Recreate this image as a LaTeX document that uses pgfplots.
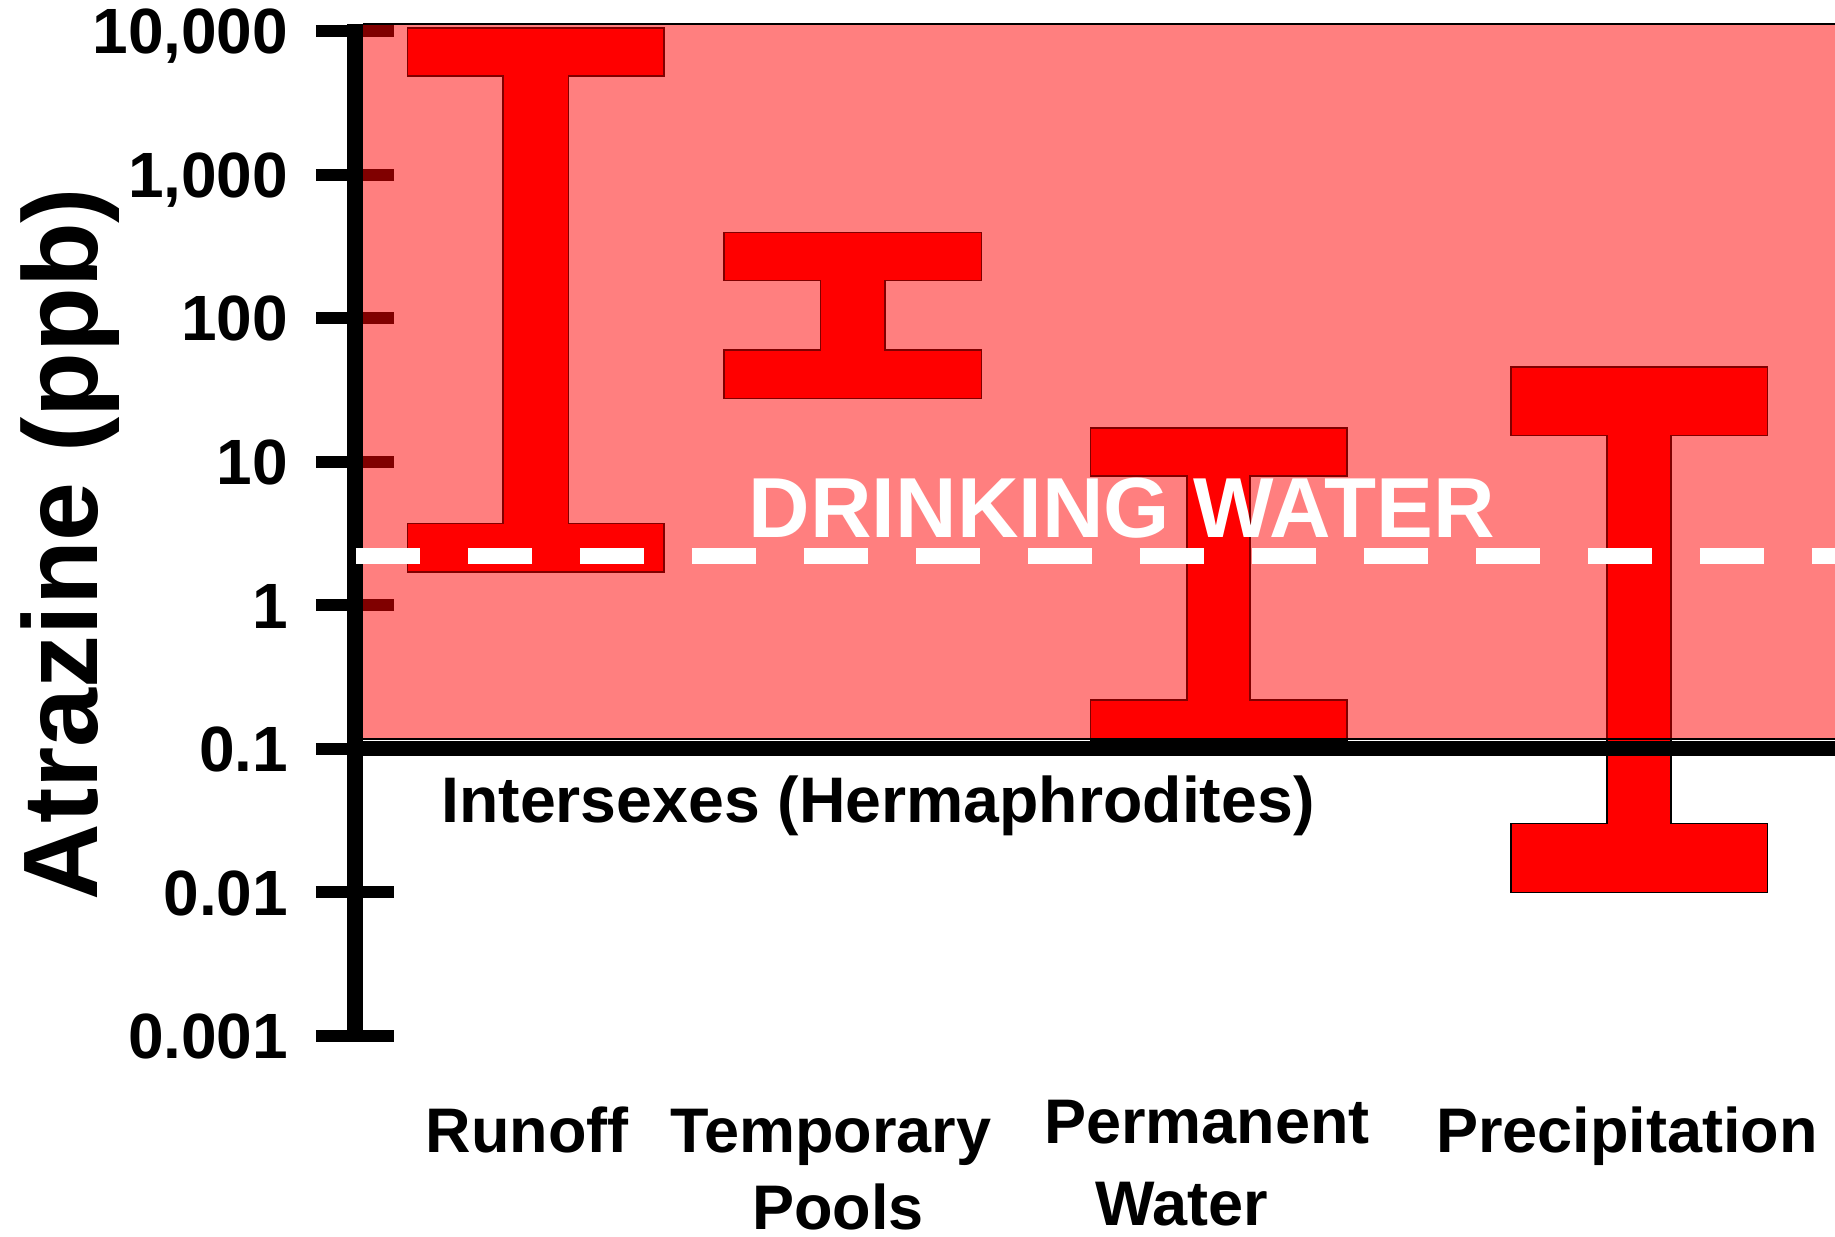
\documentclass[border=0pt]{standalone}
\usepackage{fontspec}
\setmainfont{Liberation Sans}
\usepackage{pgfplots}
\pgfplotsset{compat=1.18}
\begin{document}
\begin{tikzpicture}
\begin{axis}[
  name=ax,
  scale only axis,
  width=370pt, height=253pt,
  xmin=355, xmax=1835,
  ymode=log, ymin=0.001, ymax=11190,
  clip=false,
  axis y line*=left,
  axis x line*=bottom,
  x axis line style={draw=none},
  y axis line style={line width=4pt, black},
  xtick={527,831,1207,1627},
  xticklabels={{Runoff\\\mbox{}},{Temporary\\\hspace*{3.5pt}Pools},{\raisebox{2.25pt}{Permanent}\\\raisebox{1pt}{Water}\hspace*{12.5pt}},{Precipitation\\\mbox{}}},
  xtick style={draw=none},
  xticklabel style={font=\bfseries\fontsize{15.75}{19.25}\selectfont, align=center, anchor=base, inner sep=0pt, yshift=-38.75pt},
  ytick={0.001,0.01,0.1,1,10,100,1000,10000},
  yticklabels={0.001,0.01,0.1,1,10,100,{1,000},{10,000}},
  yminorticks=false,
  tick align=center,
  major tick length=19.5pt,
  ytick style={line width=3pt, black},
  yticklabel style={font=\bfseries\fontsize{16}{18}\selectfont, anchor=base east, inner sep=0pt, xshift=-6.75pt, yshift=-5.7pt},
  ylabel={Atrazine (ppb)},
  ylabel style={at={(axis description cs:-0.17432,0.48617)}, anchor=base, inner sep=0pt, font=\bfseries\fontsize{26.5}{30}\selectfont},
]
% I-beams (ranges)
\addplot[fill=red, draw=black, line width=0.4pt] coordinates {
 (407.7,10540) (664.3,10540) (664.3,4860) (568.7,4860) (568.7,3.72) (664.3,3.72)
 (664.3,1.71) (407.7,1.71) (407.7,3.72) (503.3,3.72) (503.3,4860) (407.7,4860)} -- cycle;
\addplot[fill=red, draw=black, line width=0.4pt] coordinates {
 (724.3,396) (981.7,396) (981.7,182.4) (885.3,182.4) (885.3,60.0) (981.7,60.0)
 (981.7,27.5) (724.3,27.5) (724.3,60.0) (820.7,60.0) (820.7,182.4) (724.3,182.4)} -- cycle;
\addplot[fill=red, draw=black, line width=0.4pt] coordinates {
 (1090.7,17.1) (1347.3,17.1) (1347.3,7.95) (1250,7.95) (1250,0.219) (1347.3,0.219)
 (1347.3,0.1135) (1090.7,0.1135) (1090.7,0.219) (1187.3,0.219) (1187.3,7.95) (1090.7,7.95)} -- cycle;
\addplot[fill=red, draw=black, line width=0.4pt] coordinates {
 (1511,45.9) (1767.7,45.9) (1767.7,15.2) (1671.3,15.2) (1671.3,0.0303) (1767.7,0.0303)
 (1767.7,0.0100) (1511,0.0100) (1511,0.0303) (1607.3,0.0303) (1607.3,15.2) (1511,15.2)} -- cycle;
% intersex range
\addplot[fill=red, fill opacity=0.5, draw=none] coordinates {(363,0.117) (1835,0.117) (1835,11190) (363,11190)} -- cycle;
\addplot[black, line width=0.5pt] coordinates {(363,11190) (1835,11190)};
\addplot[black, line width=0.5pt] coordinates {(363,0.117) (1835,0.117)};
\addplot[black, line width=3.75pt] coordinates {(355,0.1) (1835,0.1)};
% drinking water
\addplot[white, line width=4pt, dash pattern=on 16pt off 12pt] coordinates {(356,2.2) (1835,2.2)};
\node[anchor=base, inner sep=0pt, font=\bfseries\fontsize{16.1}{18}\selectfont] at (rel axis cs:0.35338,0.21146) {Intersexes (Hermaphrodites)};
\node[anchor=base, inner sep=0pt, text=white, font=\bfseries\fontsize{21.3}{24}\selectfont] at (rel axis cs:0.51824,0.49308) {DRINKING WATER};
\end{axis}
\pgfresetboundingbox
\path ([xshift=-88.75pt,yshift=-50pt]ax.south west) rectangle ([yshift=6pt]ax.north east);
\end{tikzpicture}
\end{document}
